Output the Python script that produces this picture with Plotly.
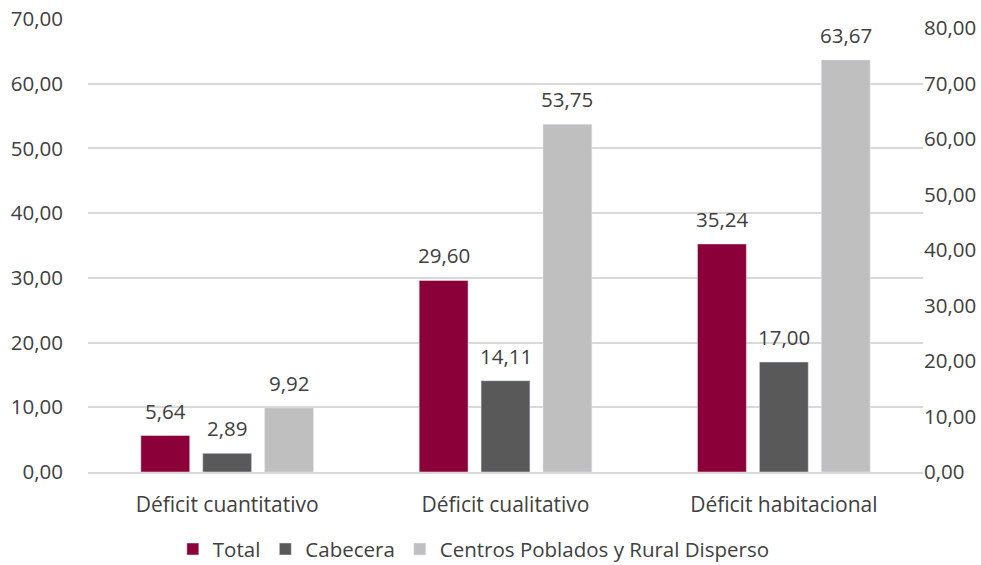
import plotly.graph_objects as go

categories = ["Déficit cuantitativo", "Déficit cualitativo", "Déficit habitacional"]
total = [5.64, 29.60, 35.24]
cabecera = [2.89, 14.11, 17.00]
centros = [9.92, 53.75, 63.67]
series_names = ["Total", "Cabecera", "Centros Poblados y Rural Disperso"]
colors = ["#8B0038", "#595959", "#BFBFBF"]

def fmt(v):
    return f"{v:.2f}".replace(".", ",")

FONT = "Open Sans, Liberation Sans, sans-serif"
TXT = "#404040"
FS = 20.5
BARGAP = 0.333

fig = go.Figure()
all_series = [total, cabecera, centros]
for name, vals, col in zip(series_names, all_series, colors):
    fig.add_trace(go.Bar(
        x=categories, y=vals, name=name, marker_color=col,
    ))

# value labels above bars, placed at each bar's slot in the group
slot = (1 - BARGAP) / len(all_series)
annotations = []
for k, vals in enumerate(all_series):
    off = (k - (len(all_series) - 1) / 2) * slot
    for i, v in enumerate(vals):
        annotations.append(dict(x=i + off, y=v, xref="x", yref="y", text=fmt(v),
                                showarrow=False, yanchor="bottom", yshift=9,
                                font=dict(size=FS, color=TXT, family=FONT)))

# invisible trace to display the secondary axis
fig.add_trace(go.Scatter(x=[categories[0]], y=[0], yaxis="y2", mode="markers",
                         marker=dict(opacity=0), showlegend=False, hoverinfo="skip"))

fig.update_layout(
    width=981, height=565,
    margin=dict(l=88, r=58, t=19, b=93),
    paper_bgcolor="white", plot_bgcolor="white",
    separators=",.",
    font=dict(family=FONT, size=FS, color=TXT),
    bargap=BARGAP, bargroupgap=0.21, barmode="group",
    annotations=annotations,
    xaxis=dict(showline=True, linecolor="#D9D9D9", linewidth=1.5, automargin=False,
               ticks="", tickfont=dict(size=21, color=TXT), ticklabelstandoff=13),
    yaxis=dict(range=[0, 70], dtick=10, tickformat=".2f", showgrid=True, automargin=False,
               gridcolor="#D9D9D9", gridwidth=1.5, zeroline=False,
               tickfont=dict(size=FS, color=TXT), ticklabelstandoff=24),
    yaxis2=dict(range=[0, 81.6], tickvals=[0, 10, 20, 30, 40, 50, 60, 70, 80], automargin=False,
                tickformat=".2f", overlaying="y", side="right", showgrid=False,
                zeroline=False, tickfont=dict(size=FS, color=TXT), ticklabelstandoff=0),
    legend=dict(orientation="h", x=0.483, xref="container", xanchor="center",
                y=0.028, yref="container", yanchor="middle",
                font=dict(size=FS, color=TXT), itemwidth=30, traceorder="normal"),
)

fig.write_html("out.html", config={"displayModeBar": False},
               post_script="document.body.style.margin='0';document.body.style.overflow='hidden';")
